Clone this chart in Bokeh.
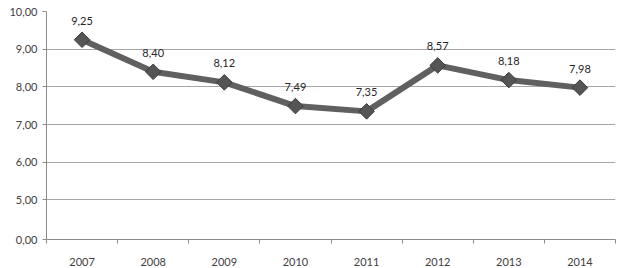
from bokeh.plotting import figure
from bokeh.models import Range1d, FixedTicker, ColumnDataSource
from bokeh.core.properties import value
from bokeh.embed import file_html
from bokeh.resources import INLINE
import math

years = [2007, 2008, 2009, 2010, 2011, 2012, 2013, 2014]
values = [9.25, 8.40, 8.12, 7.49, 7.35, 8.57, 8.18, 7.98]
y_ticks = [3.95, 5, 6, 7, 8, 9, 10]
y_tick_labels = ["0,00", "5,00", "6,00", "7,00", "8,00", "9,00", "10,00"]

labels = [f"{v:.2f}".replace(".", ",") for v in values]
src = ColumnDataSource(dict(x=years, y=values, lab=labels))

FONT = "Lato"

p = figure(width=624, height=268, output_backend="svg", toolbar_location=None,
           x_range=Range1d(years[0] - 0.5, years[-1] + 0.5),
           y_range=Range1d(y_ticks[0], y_ticks[-1]),
           min_border_left=46, min_border_right=9, min_border_top=11, min_border_bottom=29)
p.outline_line_color = None
p.background_fill_color = "white"
p.border_fill_color = "white"

p.xgrid.visible = False
p.ygrid.grid_line_color = "#a6a6a6"
p.ygrid.grid_line_width = 1

# y axis
p.yaxis.ticker = FixedTicker(ticks=y_ticks)
p.yaxis.major_label_overrides = {t: l for t, l in zip(y_ticks, y_tick_labels)}
p.yaxis.axis_line_color = "#8c8c8c"
p.yaxis.major_tick_line_color = "#8c8c8c"
p.yaxis.major_tick_out = 4
p.yaxis.major_tick_in = 0
p.yaxis.minor_tick_line_color = None
p.yaxis.major_label_text_font = FONT
p.yaxis.major_label_text_font_size = "11px"
p.yaxis.major_label_text_color = "#404040"
p.yaxis.major_label_standoff = 5

# x axis
p.xaxis.ticker = FixedTicker(ticks=years, minor_ticks=[y - 0.5 for y in years] + [years[-1] + 0.5])
p.xaxis.major_label_overrides = {y: str(y) for y in years}
p.xaxis.axis_line_color = "#8c8c8c"
p.xaxis.major_tick_line_color = None
p.xaxis.major_tick_out = 0
p.xaxis.major_tick_in = 0
p.xaxis.minor_tick_line_color = "#8c8c8c"
p.xaxis.minor_tick_out = 4
p.xaxis.minor_tick_in = 0
p.xaxis.major_label_text_font = FONT
p.xaxis.major_label_text_font_size = "11px"
p.xaxis.major_label_text_color = "#404040"
p.xaxis.major_label_standoff = 14

p.line("x", "y", source=src, line_color="#606060", line_width=6, line_join="round")
p.scatter("x", "y", source=src, marker="square", angle=math.pi / 4, size=11,
          fill_color="#555555", line_color="#3a3a3a", line_width=1)
p.text("x", "y", text="lab", source=src, y_offset=-19, text_align="center",
       text_baseline="middle", text_font=value(FONT), text_font_size="11px",
       text_color="#262626")

open("out.html", "w").write(file_html(p, INLINE))
